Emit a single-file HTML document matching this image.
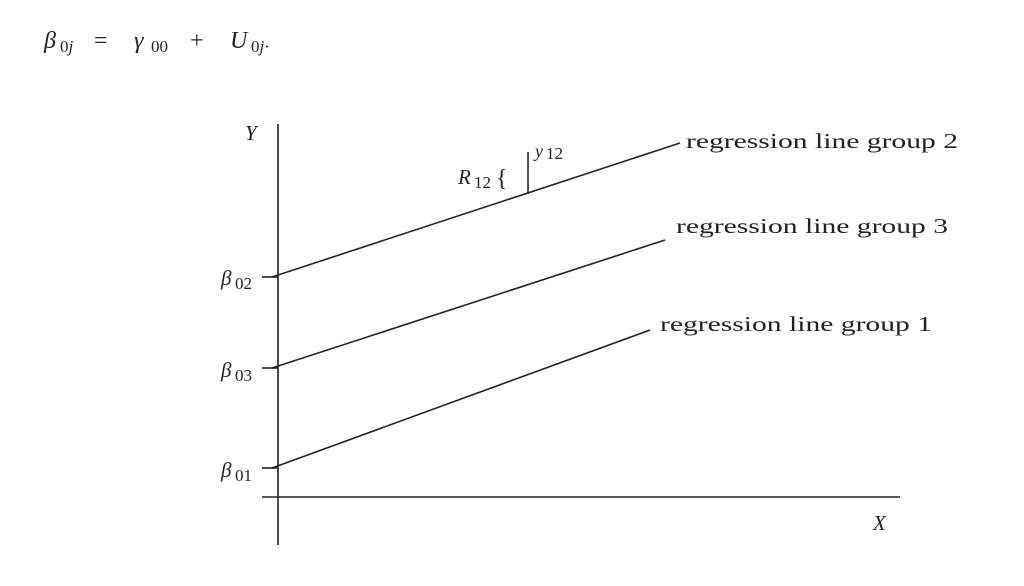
<!DOCTYPE html>
<html><head><style>
body{margin:0;background:#fff;}
svg text{font-family:"Liberation Serif",serif;fill:#222;}
</style></head><body>
<svg width="1024" height="581" viewBox="0 0 1024 581" xmlns="http://www.w3.org/2000/svg">
<g font-size="24">
<text x="44" y="48" font-style="italic">β</text>
<text x="60" y="52" font-size="17">0<tspan font-style="italic">j</tspan></text>
<text x="94" y="48">=</text>
<text x="134" y="48" font-style="italic">γ</text>
<text x="151" y="52" font-size="17">00</text>
<text x="190" y="48">+</text>
<text x="230" y="48" font-style="italic">U</text>
<text x="251" y="52" font-size="17">0<tspan font-style="italic">j</tspan>·</text>
</g>
<g stroke="#222" stroke-width="1.6" fill="none">
<line x1="278" y1="124" x2="278" y2="545"/>
<line x1="262" y1="497" x2="900" y2="497"/>
<line x1="272" y1="277" x2="680" y2="143"/>
<line x1="272" y1="368" x2="665" y2="240"/>
<line x1="272" y1="468" x2="650" y2="330"/>
<line x1="528" y1="152" x2="528" y2="194"/>
<line x1="262" y1="277" x2="278" y2="277"/>
<line x1="262" y1="368" x2="278" y2="368"/>
<line x1="262" y1="468" x2="278" y2="468"/>
</g>
<g font-size="21">
<text x="245" y="140" font-style="italic">Y</text>
<text x="873" y="530" font-style="italic">X</text>
<text x="686" y="148" textLength="272" lengthAdjust="spacingAndGlyphs">regression line group 2</text>
<text x="676" y="233" textLength="272" lengthAdjust="spacingAndGlyphs">regression line group 3</text>
<text x="660" y="331" textLength="272" lengthAdjust="spacingAndGlyphs">regression line group 1</text>
<text x="221" y="285" font-style="italic">β</text><text x="235" y="289" font-size="17">02</text>
<text x="221" y="377" font-style="italic">β</text><text x="235" y="381" font-size="17">03</text>
<text x="221" y="477" font-style="italic">β</text><text x="235" y="481" font-size="17">01</text>
<text x="458" y="184" font-style="italic">R</text><text x="474" y="188" font-size="17">12</text><text x="496" y="186" font-size="24">{</text>
<text x="535" y="157" font-size="18" font-style="italic">y</text><text x="546" y="159" font-size="17">12</text>
</g>
</svg>
</body></html>
